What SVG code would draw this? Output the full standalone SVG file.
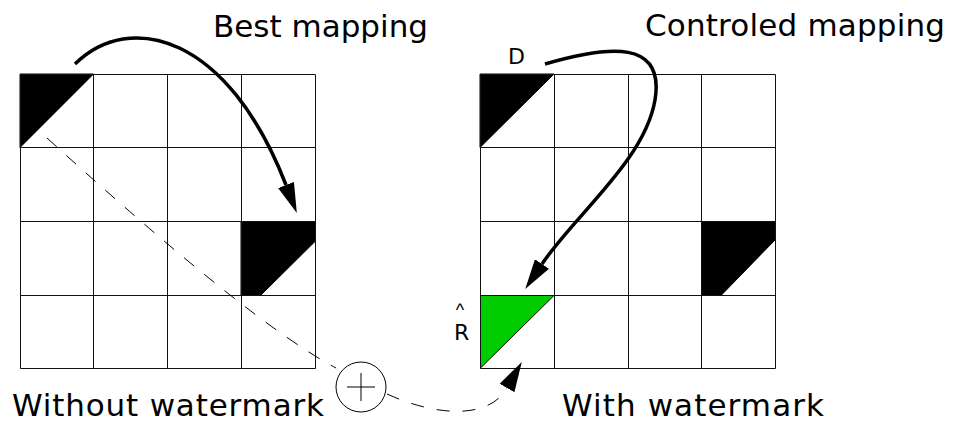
<svg xmlns="http://www.w3.org/2000/svg" width="954" height="431" viewBox="0 0 954 431">
<style>
.grid{fill:none;stroke:#111;stroke-width:1}
.blk{fill:#000;stroke:#000;stroke-width:1}
.grn{fill:#00cc00;stroke:#000;stroke-width:1}
.lbl{font-family:"DejaVu Sans",sans-serif;font-size:31px;fill:#000}
.sm{font-family:"DejaVu Sans",sans-serif;font-size:22px;fill:#000}
.arr{fill:none;stroke:#000;stroke-width:3.5}
.dash{fill:none;stroke:#000;stroke-width:1;stroke-dasharray:13 13}
</style>
<defs>
<marker id="ah" viewBox="0 -8.5 30 17" refX="0" refY="0" markerWidth="30" markerHeight="17" markerUnits="userSpaceOnUse" orient="auto">
<path d="M0,-8.5 L30,0 L0,8.5 z" fill="#000" stroke="none"/>
</marker>
</defs>
<rect width="954" height="431" fill="#fff"/>
<g id="grid-left">
<polygon class="blk" points="20,74 93.5,74 20,147.5"/>
<polygon class="blk" points="241,221.5 315,221.5 315,241.5 261,295 241,295"/>
<path class="grid" d="M20.5,74.5H315.5V368.5H20.5Z M93.5,74.5V368.5 M167.5,74.5V368.5 M241.5,74.5V368.5 M20.5,147.5H315.5 M20.5,221.5H315.5 M20.5,295.5H315.5"/>
</g>
<g id="grid-right">
<polygon class="blk" points="480,74 554,74 480,147.5"/>
<polygon class="blk" points="701.5,221.5 775,221.5 775,240 721.5,295 701.5,295"/>
<polygon class="grn" points="480.5,295.5 554,295.5 480.5,368"/>
<path class="grid" d="M480.5,74.5H775.5V368.5H480.5Z M554.5,74.5V368.5 M628.5,74.5V368.5 M701.5,74.5V368.5 M480.5,147.5H775.5 M480.5,221.5H775.5 M480.5,295.5H775.5"/>
</g>
<g id="connectors">
<path class="arr" d="M75,64 C130,10 228,35 286,185" marker-end="url(#ah)"/>
<path class="arr" d="M545,64 C610,45 665,40 655,100 C645,160 575,215 542,264" marker-end="url(#ah)"/>
<path class="dash" d="M47,138 Q251,323 336,368"/>
<path class="dash" d="M387,394 C440,418 490,418 507,388" marker-end="url(#ah)"/>
</g>
<g id="plus">
<circle cx="361" cy="387" r="25" fill="#fff" stroke="#000" stroke-width="1"/>
<path d="M347,387H375 M361,373V401" stroke="#000" stroke-width="1" fill="none"/>
</g>
<g id="labels">
<text class="lbl" x="213" y="37" textLength="215" lengthAdjust="spacing">Best mapping</text>
<text class="lbl" x="645" y="36" textLength="300" lengthAdjust="spacing">Controled mapping</text>
<text class="lbl" x="12" y="416" textLength="312" lengthAdjust="spacing">Without watermark</text>
<text class="lbl" x="562" y="416" textLength="262" lengthAdjust="spacing">With watermark</text>
<text class="sm" x="508" y="64">D</text>
<text class="sm" x="454" y="340">R</text>
<text x="460" y="316" text-anchor="middle" style="font-family:'Liberation Sans',sans-serif;font-size:18px">^</text>
</g>
</svg>
